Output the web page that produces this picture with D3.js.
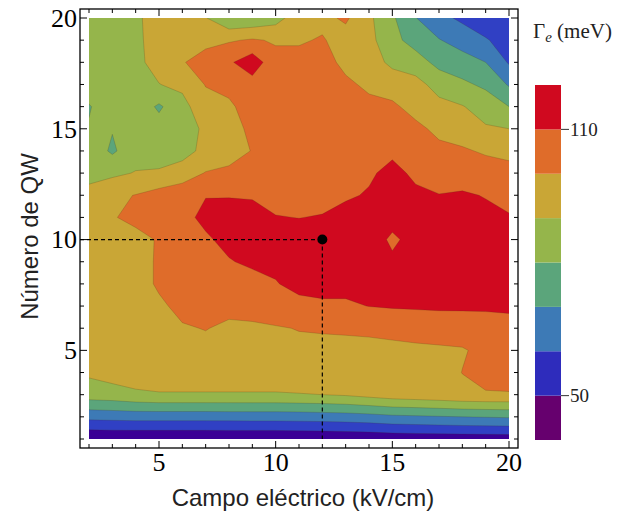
<!DOCTYPE html>
<html>
<head>
<meta charset="utf-8">
<script src="https://cdn.jsdelivr.net/npm/d3@7"></script>
<style>
  body { margin: 0; background: #ffffff; }
  svg { display: block; }
</style>
</head>
<body>
<svg id="chart" width="623" height="514"></svg>
<script>
// Electric field (kV/cm) sampled along x, number of quantum wells along y
const fieldValues = [2, 3, 4, 5, 6, 7, 8, 9, 10, 11, 12, 13, 14, 15, 16, 17, 18, 19, 20];
const qwCounts = [1, 2, 3, 4, 5, 6, 7, 8, 9, 10, 11, 12, 13, 14, 15, 16, 17, 18, 19, 20];

// Γe (meV): one row per QW count (1 → 20), one column per field value (2 → 20 kV/cm)
const gammaRows = [
  [40.7, 41, 41, 41, 41, 41, 41, 41, 41, 41.5, 41.5, 42, 42.5, 43.4, 43.8, 44, 44.3, 44.5, 44.7],
  [63, 63.5, 64, 64, 64, 64, 64.2, 64.3, 64.3, 64.5, 65, 65.5, 66.5, 68, 68.6, 69.3, 70, 70.5, 71],
  [85, 86, 88, 89, 89, 89, 89, 89, 89, 89.5, 90, 91, 93, 95, 96, 97, 98.5, 99, 99],
  [91.6, 94, 96, 97, 97, 97, 97, 97, 97, 97, 97, 97, 97, 97, 97.2, 97.5, 100.1, 104, 106],
  [93, 95, 97, 97.5, 98.5, 98.5, 98.5, 98.5, 98.7, 98.8, 98.5, 98.5, 98.5, 98.7, 99, 99.2, 99.5, 101.5, 104],
  [94, 96, 97, 98.5, 99.5, 100.2, 99, 99.3, 99.6, 100.2, 100.5, 100.7, 101, 101.5, 102, 102.5, 103, 104, 106],
  [94, 96, 97.5, 99, 101.5, 103, 101.5, 101.6, 103, 107.5, 108.5, 108.5, 110.2, 111, 111.5, 112, 112, 112, 112],
  [94, 96, 97.5, 100.8, 104, 105.5, 105, 106, 109.5, 112.5, 113, 113, 114, 114, 114, 114, 114, 114, 113],
  [94, 96, 97.5, 100.8, 105, 107, 109.3, 112, 112, 114, 114.5, 115, 115, 112, 115, 115, 114, 114, 114],
  [94, 97, 97, 100.8, 106, 108.5, 113, 114, 115, 115, 116, 115, 116, 108, 114, 115, 115, 114, 114],
  [93, 99.3, 102.5, 104, 107, 112.5, 113, 114, 110.5, 109.8, 110.7, 114, 114, 114, 114, 113, 113, 112, 111],
  [92, 98, 100.3, 104, 106, 109.6, 109.6, 109, 106, 106, 106, 108.5, 111, 114, 112, 110.2, 111, 109.6, 106],
  [88, 88, 90.5, 91, 95, 100.5, 101.5, 105, 104.5, 104.5, 105, 106.5, 108.5, 113, 108, 107, 106, 104, 102.5],
  [86, 78.5, 86, 86, 86, 93, 97, 100.3, 104, 104, 104.5, 105.5, 106.5, 108, 105, 102, 101, 99, 98],
  [80.5, 80.5, 85, 84, 85, 92, 96.5, 102, 104, 104, 104, 105, 104.5, 104.5, 102, 98, 96, 91, 90],
  [79.5, 84, 86, 78.5, 87, 96, 98.5, 104, 104.5, 104, 103.5, 104, 102, 101.5, 97, 93, 90.5, 86, 80],
  [84, 85, 88, 89.8, 92, 100.5, 102.5, 106, 106, 104, 103, 101.5, 98.5, 96, 93.5, 86, 82, 78, 69],
  [84, 86, 88, 93, 99.5, 103, 108.5, 116, 103, 103, 103, 98, 95, 87.5, 84.5, 77, 74, 70, 59],
  [85, 86, 88, 94, 97, 98, 99, 101, 99, 99, 100.8, 96, 93, 83, 76, 70.5, 66, 61, 55],
  [85, 86, 88, 95, 94, 90.5, 81, 82, 86, 96, 97.5, 101.5, 92, 81.5, 70.3, 63, 58, 53, 52]
];

// Contour levels (meV) and the fill of each band, lowest band first
const bandThresholds = [50, 60, 70, 80, 90, 100, 110];
const bandColors = ["#3a0095", "#3040c4", "#3d7ab6", "#5ba57b", "#95b54b", "#c9a636", "#df6c2a", "#d0091f"];
const legendColors = ["#66006e", "#2e2cbc", "#3d7ab6", "#5ba57b", "#95b54b", "#c9a636", "#df6c2a", "#d0091f"];
const legendRange = [40, 120];
const legendTicks = [50, 110];

const xTicks = [5, 10, 15, 20];
const yTicks = [5, 10, 15, 20];
const markedField = 12;
const markedQw = 10;

const svg = d3.select("#chart");
const plot = { left: 89, right: 509, top: 18, bottom: 439 };
const pad = 9;
const frame = { left: plot.left - pad, right: plot.right + pad, top: plot.top - pad, bottom: plot.bottom + pad };

const xScale = d3.scaleLinear().domain(d3.extent(fieldValues)).range([plot.left, plot.right]);
const yScale = d3.scaleLinear().domain(d3.extent(qwCounts)).range([plot.bottom, plot.top]);

// grid index space -> data space (d3.contours puts sample i at i + 0.5)
const nx = fieldValues.length, ny = qwCounts.length;
const gridToField = d3.scaleLinear().domain([0.5, nx - 0.5]).range(d3.extent(fieldValues));
const gridToQw = d3.scaleLinear().domain([0.5, ny - 0.5]).range(d3.extent(qwCounts));

const flat = [];
gammaRows.forEach(row => row.forEach(v => flat.push(v)));

const bands = d3.contours().size([nx, ny]).thresholds(bandThresholds)(flat);

const projection = d3.geoTransform({
  point(x, y) { this.stream.point(xScale(gridToField(x)), yScale(gridToQw(y))); }
});
const path = d3.geoPath(projection);

svg.append("clipPath").attr("id", "plot-clip")
  .append("rect")
  .attr("x", plot.left).attr("y", plot.top)
  .attr("width", plot.right - plot.left).attr("height", plot.bottom - plot.top);

const field = svg.append("g").attr("clip-path", "url(#plot-clip)");

field.append("rect")
  .attr("x", plot.left).attr("y", plot.top)
  .attr("width", plot.right - plot.left).attr("height", plot.bottom - plot.top)
  .attr("fill", bandColors[0]);

field.selectAll("path.band")
  .data(bands)
  .join("path")
  .attr("class", "band")
  .attr("d", path)
  .attr("fill", (d, i) => bandColors[i + 1])
  .attr("stroke", "rgba(70,40,20,0.28)")
  .attr("stroke-width", 0.7)
  .attr("stroke-linejoin", "round");

// Frame with inward ticks on all four sides
const axes = svg.append("g").attr("stroke", "#000");
axes.append("rect")
  .attr("x", frame.left).attr("y", frame.top)
  .attr("width", frame.right - frame.left).attr("height", frame.bottom - frame.top)
  .attr("fill", "none").attr("stroke-width", 1.3);

const minorX = d3.range(d3.min(fieldValues), d3.max(fieldValues) + 1);
const minorY = d3.range(d3.min(qwCounts), d3.max(qwCounts) + 1);
const tickLen = v => (v % 5 === 0 ? 7 : 4);

minorX.forEach(v => {
  const x = xScale(v);
  axes.append("line").attr("x1", x).attr("x2", x).attr("y1", frame.bottom).attr("y2", frame.bottom - tickLen(v)).attr("stroke-width", 1);
  axes.append("line").attr("x1", x).attr("x2", x).attr("y1", frame.top).attr("y2", frame.top + tickLen(v)).attr("stroke-width", 1);
});
minorY.forEach(v => {
  const y = yScale(v);
  axes.append("line").attr("y1", y).attr("y2", y).attr("x1", frame.left).attr("x2", frame.left + tickLen(v)).attr("stroke-width", 1);
  axes.append("line").attr("y1", y).attr("y2", y).attr("x1", frame.right).attr("x2", frame.right - tickLen(v)).attr("stroke-width", 1);
});

const serif = "'Liberation Serif', 'Times New Roman', serif";
const sans = "'Liberation Sans', Arial, sans-serif";

svg.append("g").selectAll("text").data(xTicks).join("text")
  .attr("x", d => xScale(d)).attr("y", frame.bottom + 23)
  .attr("text-anchor", "middle")
  .attr("font-family", serif).attr("font-size", 26)
  .text(d => d);

svg.append("g").selectAll("text").data(yTicks).join("text")
  .attr("x", frame.left - 3).attr("y", d => yScale(d)).attr("dy", "0.34em")
  .attr("text-anchor", "end")
  .attr("font-family", serif).attr("font-size", 26)
  .text(d => d);

svg.append("text")
  .attr("x", (plot.left + plot.right) / 2 + 4).attr("y", 506)
  .attr("text-anchor", "middle")
  .attr("font-family", sans).attr("font-size", 24)
  .attr("fill", "#222")
  .text("Campo eléctrico (kV/cm)");

svg.append("text")
  .attr("transform", `translate(38, ${(plot.top + plot.bottom) / 2 + 8}) rotate(-90)`)
  .attr("text-anchor", "middle")
  .attr("font-family", sans).attr("font-size", 24)
  .attr("fill", "#222")
  .text("Número de QW");

// Dashed guides to the marked operating point
const guides = svg.append("g").attr("stroke", "#000").attr("stroke-width", 1.2).attr("stroke-dasharray", "4,3");
guides.append("line")
  .attr("x1", frame.left).attr("x2", xScale(markedField))
  .attr("y1", yScale(markedQw)).attr("y2", yScale(markedQw));
guides.append("line")
  .attr("x1", xScale(markedField)).attr("x2", xScale(markedField))
  .attr("y1", yScale(markedQw)).attr("y2", yScale(d3.min(qwCounts)));
svg.append("circle")
  .attr("cx", xScale(markedField)).attr("cy", yScale(markedQw))
  .attr("r", 5).attr("fill", "#000");

// Colour legend
const legend = { left: 535, right: 561, top: 85, bottom: 440 };
const legendScale = d3.scaleLinear().domain(legendRange).range([legend.bottom, legend.top]);
const legendEdges = [legendRange[0], ...bandThresholds, legendRange[1]];
const lg = svg.append("g");
lg.selectAll("rect").data(legendColors).join("rect")
  .attr("x", legend.left)
  .attr("y", (d, i) => legendScale(legendEdges[i + 1]))
  .attr("width", legend.right - legend.left)
  .attr("height", (d, i) => legendScale(legendEdges[i]) - legendScale(legendEdges[i + 1]))
  .attr("fill", d => d);
lg.selectAll("line").data(legendTicks).join("line")
  .attr("x1", legend.right).attr("x2", legend.right + 8)
  .attr("y1", d => legendScale(d)).attr("y2", d => legendScale(d))
  .attr("stroke", "#333").attr("stroke-width", 1);
lg.selectAll("text").data(legendTicks).join("text")
  .attr("x", legend.right + 9).attr("y", d => legendScale(d)).attr("dy", "0.34em")
  .attr("font-family", serif).attr("font-size", 19)
  .attr("fill", "#222")
  .text(d => d);

const title = svg.append("text")
  .attr("x", 533).attr("y", 38)
  .attr("font-family", serif).attr("font-size", 21)
  .attr("fill", "#222");
title.append("tspan").text("Γ");
title.append("tspan").attr("font-style", "italic").attr("font-size", 15).attr("dy", 4).text("e");
title.append("tspan").attr("dy", -4).text(" (meV)");
</script>
</body>
</html>
